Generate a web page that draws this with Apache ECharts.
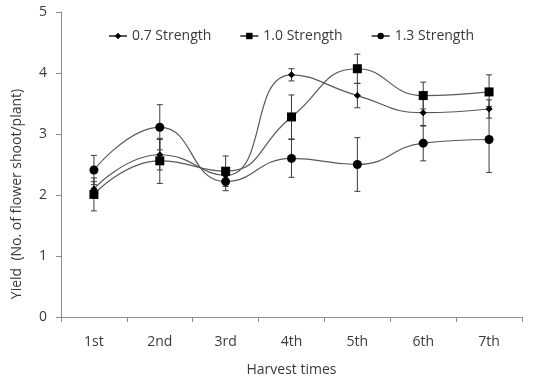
<!DOCTYPE html>
<html>
<head>
<meta charset="utf-8">
<script src="https://cdn.jsdelivr.net/npm/echarts@6/dist/echarts.min.js"></script>
<style>
  html, body { margin: 0; padding: 0; background: #fff; }
  #chart { width: 536px; height: 382px; }
</style>
</head>
<body>
<div id="chart"></div>
<script>
// harvest data
var categories = ['1st', '2nd', '3rd', '4th', '5th', '6th', '7th'];
var yTicks = [0, 1, 2, 3, 4, 5];

var s07 = [2.10, 2.66, 2.32, 3.97, 3.63, 3.35, 3.41];
var s10 = [2.01, 2.56, 2.39, 3.28, 4.07, 3.63, 3.69];
var s13 = [2.41, 3.11, 2.22, 2.60, 2.50, 2.85, 2.91];

// +/- error (symmetric)
var e07 = [0.12, 0.25, 0.10, 0.10, 0.20, 0.22, 0.15];
var e10 = [0.27, 0.37, 0.25, 0.36, 0.24, 0.22, 0.28];
var e13 = [0.24, 0.37, 0.15, 0.31, 0.44, 0.29, 0.54];

(function() {
    var chart = echarts.init(document.getElementById('chart'));
    var font = 'Open Sans';
    var textColor = '#3a3a3a';
    var lineColor = '#595959';

    function errData(vals, errs) {
        return vals.map(function(v, i) {
            return [i, v - errs[i], v + errs[i]];
        });
    }

    function renderErr(params, api) {
        var x = api.value(0);
        var lo = api.coord([x, api.value(1)]);
        var hi = api.coord([x, api.value(2)]);
        var cap = 3;
        var st = { stroke: '#3c3c3c', lineWidth: 1 };
        return {
            type: 'group',
            children: [
                { type: 'line', shape: { x1: hi[0], y1: hi[1], x2: lo[0], y2: lo[1] }, style: st },
                { type: 'line', shape: { x1: hi[0] - cap, y1: hi[1], x2: hi[0] + cap, y2: hi[1] }, style: st },
                { type: 'line', shape: { x1: lo[0] - cap, y1: lo[1], x2: lo[0] + cap, y2: lo[1] }, style: st }
            ]
        };
    }

    function errSeries(vals, errs) {
        return {
            type: 'custom',
            renderItem: renderErr,
            data: errData(vals, errs),
            encode: { x: 0, y: [1, 2] },
            z: 1,
            silent: true
        };
    }

    function lineSeries(name, data, symbol, size) {
        return {
            name: name,
            type: 'line',
            data: data,
            smooth: 0.5,
            symbol: symbol,
            symbolSize: size,
            lineStyle: { color: lineColor, width: 1.2 },
            itemStyle: { color: '#000' },
            z: 3
        };
    }

    var option = {
        animation: false,
        textStyle: { fontFamily: font, color: textColor },
        grid: { left: 61, right: 14, top: 12, bottom: 65 },
        legend: {
            left: 108,
            top: 29,
            padding: 0,
            itemGap: 28,
            itemWidth: 18,
            itemHeight: 8,
            textStyle: { fontFamily: font, fontSize: 14, color: textColor },
            data: ['0.7 Strength', '1.0 Strength', '1.3 Strength']
        },
        xAxis: {
            type: 'category',
            data: categories,
            name: 'Harvest times',
            nameLocation: 'middle',
            nameGap: 46,
            nameTextStyle: { fontFamily: font, fontSize: 14, color: textColor },
            axisLine: { lineStyle: { color: '#8c8c8c' } },
            axisTick: { show: true, length: 5, lineStyle: { color: '#8c8c8c' } },
            axisLabel: { margin: 18, fontSize: 14, color: textColor, fontFamily: font }
        },
        yAxis: {
            type: 'value',
            min: yTicks[0],
            max: yTicks[yTicks.length - 1],
            interval: 1,
            splitLine: { show: false },
            axisLine: { show: true, lineStyle: { color: '#8c8c8c' } },
            axisTick: { show: true, length: 5, lineStyle: { color: '#8c8c8c' } },
            axisLabel: { margin: 14, fontSize: 14, color: textColor, fontFamily: font }
        },
        graphic: [{
            type: 'text',
            x: 17,
            y: 194,
            rotation: Math.PI / 2,
            style: {
                text: 'Yield  (No. of flower shoot/plant)',
                fontFamily: font,
                fontSize: 14,
                fill: textColor,
                align: 'center',
                verticalAlign: 'middle'
            }
        }],
        series: [
            errSeries(s07, e07),
            errSeries(s10, e10),
            errSeries(s13, e13),
            lineSeries('0.7 Strength', s07, 'diamond', 7),
            lineSeries('1.0 Strength', s10, 'rect', 9),
            lineSeries('1.3 Strength', s13, 'circle', 9)
        ]
    };

    chart.setOption(option);

    window.onresize = function() {
        chart.resize();
    };
})();
</script>
</body>
</html>
